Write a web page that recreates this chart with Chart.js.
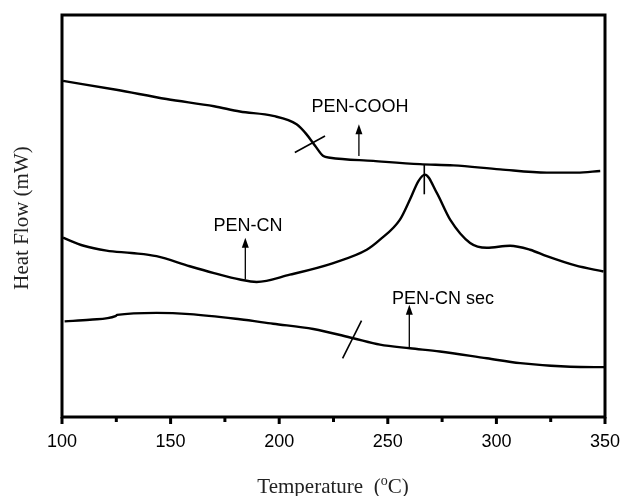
<!DOCTYPE html>
<html>
<head>
<meta charset="utf-8">
<script src="https://cdn.jsdelivr.net/npm/chart.js@4"></script>
<style>
html,body{margin:0;padding:0;background:#fff;}
</style>
</head>
<body>
<canvas id="dsc" width="621" height="496"></canvas>
<script>
// -------------------- data
var coohT  = [100.5,125.0,148.1,170.0,181.9,197.2,208.0,212.6,216.6,220.3,223.4,243.3,264.8,280.2,301.7,323.2,337.1,347.8];
var coohHF = [83.6,81.4,79.1,77.3,76.0,74.9,72.8,70.3,67.4,64.9,64.5,63.7,62.9,62.6,61.6,60.8,60.8,61.2];

var cnT  = [100.5,110.0,120.5,132.0,143.5,158.8,170.0,181.9,189.6,204.9,224.9,240.3,246.4,255.6,260.2,264.1,267.1,272.5,278.7,287.9,295.6,306.3,315.5,323.2,336.3,349.3];
var cnHF = [44.6,42.6,41.4,40.8,40.0,37.5,35.8,34.2,33.6,35.4,38.3,41.6,44.1,49.1,54.1,58.7,60.3,55.8,49.1,43.3,42.1,42.6,41.6,40.0,37.7,36.2];

var secT  = [101.2,112.8,124.6,125.4,143.5,158.8,181.9,197.2,215.7,234.1,246.4,260.2,274.0,295.6,311.0,334.0,350.0];
var secHF = [23.8,24.2,25.1,25.4,25.9,25.6,24.3,23.2,21.9,19.6,18.0,17.1,16.3,14.6,13.4,12.5,12.4];

var xTicks = [100,150,200,250,300,350];

// labels: text, temperature, heat flow
var labelText = ['PEN-COOH','PEN-CN','PEN-CN sec'];
var labelT    = [237.2,185.6,275.4];
var labelHF   = [77.1,47.5,29.4];

// arrows: temperature, from, to
var arrowT    = [236.7,184.4,259.9];
var arrowFrom = [64.9,34.2,17.1];
var arrowTo   = [72.8,44.6,27.9];

// tangent / marker strokes [t1,hf1,t2,hf2]
var strokes = [
  [207.2,65.8,221.1,69.9],
  [266.8,62.8,266.8,55.4],
  [229.2,14.6,237.9,24.0]
];

function pts(t,v){
  var o = [];
  for(var i = 0;i<t.length;i++){ o.push({x:t[i],y:v[i]}); }
  return o;
}

var decor = {
  id:'decor',
  afterDraw:function(chart){
    var c = chart.ctx, a = chart.chartArea;
    var xs = chart.scales.x, ys = chart.scales.y;
    c.save();
    // frame
    c.strokeStyle = '#000'; c.lineWidth = 3;
    c.strokeRect(a.left, a.top, a.right-a.left, a.bottom-a.top);
    // x ticks
    for(var t = 100;t<=350;t+=25){
      var px = xs.getPixelForValue(t);
      c.beginPath();
      c.moveTo(px, a.bottom);
      c.lineTo(px, a.bottom + (t%50==0?7:5));
      c.stroke();
    }
    // strokes
    c.lineWidth = 1.6;
    for(var i = 0;i<strokes.length;i++){
      var s = strokes[i];
      c.beginPath();
      c.moveTo(xs.getPixelForValue(s[0]), ys.getPixelForValue(s[1]));
      c.lineTo(xs.getPixelForValue(s[2]), ys.getPixelForValue(s[3]));
      c.stroke();
    }
    // arrows
    c.lineWidth = 1.3; c.fillStyle = '#000';
    for(var i = 0;i<arrowT.length;i++){
      var ax = xs.getPixelForValue(arrowT[i]);
      var y0 = ys.getPixelForValue(arrowFrom[i]);
      var y1 = ys.getPixelForValue(arrowTo[i]);
      c.beginPath(); c.moveTo(ax,y0); c.lineTo(ax,y1+8); c.stroke();
      c.beginPath(); c.moveTo(ax,y1); c.lineTo(ax-3.5,y1+10); c.lineTo(ax+3.5,y1+10); c.closePath(); c.fill();
    }
    // labels
    c.font = '18px "Liberation Sans", Arial, sans-serif';
    c.textAlign = 'center'; c.textBaseline = 'middle';
    for(var i = 0;i<labelText.length;i++){
      c.fillText(labelText[i], xs.getPixelForValue(labelT[i]), ys.getPixelForValue(labelHF[i]));
    }
    // axis titles
    c.fillStyle = '#222';
    c.textAlign = 'left'; c.textBaseline = 'alphabetic';
    var p1 = 'Temperature  (', p2 = 'o', p3 = 'C)';
    c.font = '21px "Liberation Serif", serif';
    var w1 = c.measureText(p1).width, w3 = c.measureText(p3).width;
    c.font = '14px "Liberation Serif", serif';
    var w2 = c.measureText(p2).width;
    var x0 = 333 - (w1+w2+w3)/2, yb = 493;
    c.font = '21px "Liberation Serif", serif';
    c.fillText(p1, x0, yb);
    c.font = '14px "Liberation Serif", serif';
    c.fillText(p2, x0+w1, yb-8);
    c.font = '21px "Liberation Serif", serif';
    c.fillText(p3, x0+w1+w2, yb);
    c.translate(22, 218);
    c.rotate(-Math.PI/2);
    c.textAlign = 'center'; c.textBaseline = 'middle';
    c.fillText('Heat Flow (mW)', 0, 0);
    c.restore();
  }
};

var ds = function(d){
  return {data:d, borderColor:'#000', borderWidth:2.4, pointRadius:0, fill:false, cubicInterpolationMode:'monotone'};
};

var ctx = document.getElementById('dsc').getContext('2d');
window.dscChart = new Chart(ctx, {
  type:'line',
  data:{
    datasets:[ ds(pts(coohT,coohHF)), ds(pts(cnT,cnHF)), ds(pts(secT,secHF)) ]
  },
  options:{
    responsive:false,
    animation:false,
    layout:{padding:{top:15,right:0,left:0,bottom:0}},
    plugins:{legend:{display:false},tooltip:{enabled:false}},
    scales:{
      x:{
        type:'linear', min:100, max:350,
        afterFit:function(s){ s.height = 79; s.paddingRight = 16; s.paddingLeft = 0; },
        afterBuildTicks:function(s){ s.ticks = xTicks.map(function(v){return {value:v};}); },
        grid:{display:false},
        border:{display:false},
        ticks:{color:'#000', padding:6, maxRotation:0, autoSkip:false,
               font:{family:'"Liberation Sans", Arial, sans-serif', size:18}}
      },
      y:{
        min:0, max:100,
        afterFit:function(s){ s.width = 62; },
        grid:{display:false},
        border:{display:false},
        ticks:{display:false}
      }
    }
  },
  plugins:[decor]
});
</script>
</body>
</html>
